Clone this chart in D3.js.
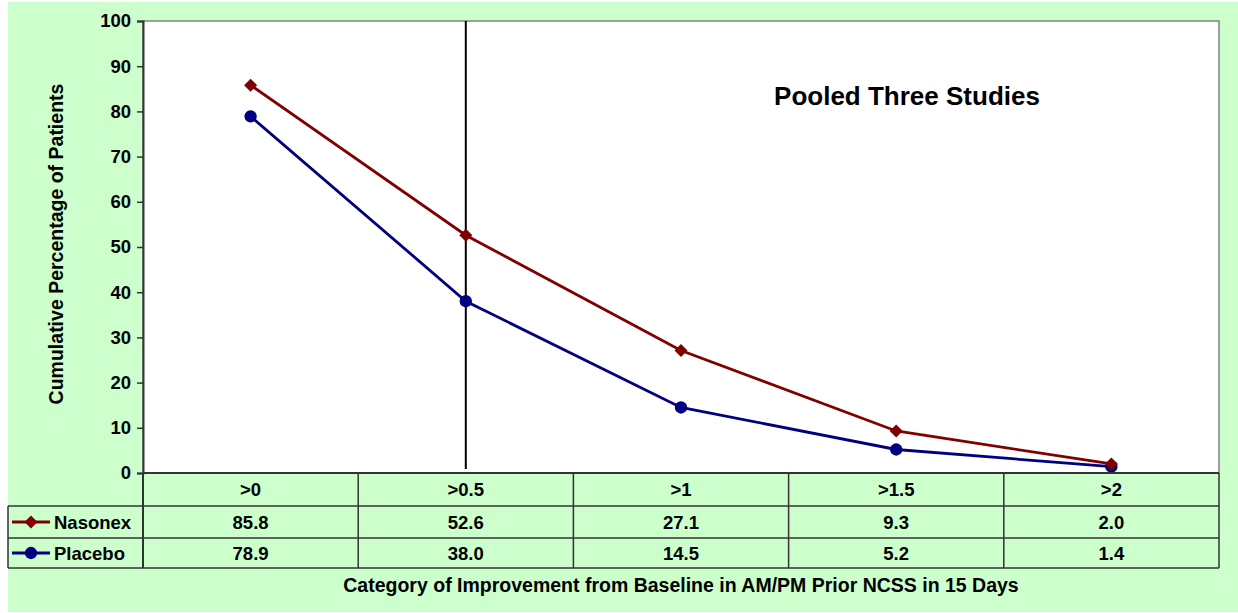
<!DOCTYPE html>
<html>
<head>
<meta charset="utf-8">
<script src="https://cdn.jsdelivr.net/npm/d3@7"></script>
<style>
  body { margin: 0; background: #fff; }
  text { font-family: Arial, "Liberation Sans", sans-serif; font-weight: bold; }
</style>
</head>
<body>
<div id="chart"></div>
<script>
// chart data
var categories = [">0", ">0.5", ">1", ">1.5", ">2"];
var nasonex = [85.8, 52.6, 27.1, 9.3, 2.0];
var placebo = [78.9, 38.0, 14.5, 5.2, 1.4];
var yTicks = [0, 10, 20, 30, 40, 50, 60, 70, 80, 90, 100];
var markerCategory = ">0.5";

var width = 1238, height = 613;
var plot = {left: 143, top: 21, right: 1219, bottom: 473};

var svg = d3.select("#chart").append("svg")
    .attr("width", width)
    .attr("height", height);

// green chart background
svg.append("rect")
    .attr("x", 8).attr("y", 2)
    .attr("width", width - 8).attr("height", 610)
    .attr("fill", "#ccffcc");

// plot area
svg.append("rect")
    .attr("x", plot.left).attr("y", plot.top)
    .attr("width", plot.right - plot.left).attr("height", plot.bottom - plot.top)
    .attr("fill", "#fff")
    .attr("stroke", "#808080")
    .attr("stroke-width", 1.5);

var x = d3.scaleBand()
    .domain(categories)
    .range([plot.left, plot.right]);

var y = d3.scaleLinear()
    .domain([0, 100])
    .range([plot.bottom, plot.top]);

// y axis
var yAxis = svg.append("g")
    .attr("transform", "translate(" + plot.left + ",0)")
    .call(d3.axisLeft(y).tickValues(yTicks).tickSize(6).tickPadding(6));
yAxis.select(".domain").attr("stroke", "#333").attr("stroke-width", 2);
yAxis.selectAll(".tick line").attr("stroke", "#333").attr("stroke-width", 1.5);
yAxis.selectAll(".tick text")
    .attr("fill", "#000")
    .style("font-size", "18.5px")
    .style("font-family", "Arial, 'Liberation Sans', sans-serif")
    .style("font-weight", "bold");

svg.append("text")
    .attr("transform", "translate(63," + ((plot.top + plot.bottom) / 2 - 3) + ") rotate(-90)")
    .attr("text-anchor", "middle")
    .style("font-size", "19.5px")
    .text("Cumulative Percentage of Patients");

// vertical reference line
var cx = function(c) { return x(c) + x.bandwidth() / 2; };
svg.append("line")
    .attr("x1", cx(markerCategory)).attr("x2", cx(markerCategory))
    .attr("y1", plot.top).attr("y2", plot.bottom - 4)
    .attr("stroke", "#000")
    .attr("stroke-width", 2);

// series
var series = [
  {name: "Nasonex", values: nasonex, color: "#800000", shape: d3.symbolSquare, size: 85, rot: 45},
  {name: "Placebo", values: placebo, color: "#000080", shape: d3.symbolCircle, size: 120, rot: 0}
];

var line = d3.line()
    .x(function(d, i) { return cx(categories[i]); })
    .y(function(d) { return y(d); });

series.slice().reverse().forEach(function(s) {
  svg.append("path")
      .datum(s.values)
      .attr("d", line)
      .attr("fill", "none")
      .attr("stroke", s.color)
      .attr("stroke-width", 2.8);
});
series.slice().reverse().forEach(function(s) {
  svg.selectAll(null)
      .data(s.values)
      .enter().append("path")
      .attr("transform", function(d, i) { return "translate(" + cx(categories[i]) + "," + y(d) + ") rotate(" + s.rot + ")"; })
      .attr("d", d3.symbol().type(s.shape).size(s.size))
      .attr("fill", s.color);
});

svg.append("text")
    .attr("x", 907).attr("y", 105)
    .attr("text-anchor", "middle")
    .style("font-size", "26px")
    .text("Pooled Three Studies");

// data table
var rows = [plot.bottom, 506, 538, 568];
var tableLeft = 8;
var grid = svg.append("g").attr("stroke", "#333").attr("stroke-width", 1.5);

// horizontal lines
grid.append("line").attr("x1", tableLeft).attr("x2", plot.right).attr("y1", rows[1]).attr("y2", rows[1]);
grid.append("line").attr("x1", tableLeft).attr("x2", plot.right).attr("y1", rows[2]).attr("y2", rows[2]);
grid.append("line").attr("x1", tableLeft).attr("x2", plot.right).attr("y1", rows[3]).attr("y2", rows[3]);
grid.append("line").attr("x1", plot.left).attr("x2", plot.right).attr("y1", rows[0]).attr("y2", rows[0]).attr("stroke-width", 2);
// vertical lines
grid.append("line").attr("x1", tableLeft).attr("x2", tableLeft).attr("y1", rows[1]).attr("y2", rows[3]);
grid.append("line").attr("x1", plot.left).attr("x2", plot.left).attr("y1", rows[0]).attr("y2", rows[3]).attr("stroke-width", 2);
categories.forEach(function(c) {
  var xr = x(c) + x.bandwidth();
  grid.append("line").attr("x1", xr).attr("x2", xr).attr("y1", rows[0]).attr("y2", rows[3]);
});

// header
svg.selectAll(".hdr")
    .data(categories)
    .enter().append("text")
    .attr("x", function(c) { return cx(c); })
    .attr("y", (rows[0] + rows[1]) / 2 + 6.5)
    .attr("text-anchor", "middle")
    .style("font-size", "18.5px")
    .text(function(c) { return c; });

series.forEach(function(s, r) {
  var ym = (rows[r + 1] + rows[r + 2]) / 2;
  svg.selectAll(null)
      .data(s.values)
      .enter().append("text")
      .attr("x", function(d, i) { return cx(categories[i]); })
      .attr("y", ym + 7)
      .attr("text-anchor", "middle")
      .style("font-size", "18.5px")
      .text(function(d) { return d.toFixed(1); });
  // legend key
  svg.append("line")
      .attr("x1", 12).attr("x2", 50).attr("y1", ym).attr("y2", ym)
      .attr("stroke", s.color).attr("stroke-width", 2.8);
  svg.append("path")
      .attr("transform", "translate(31," + ym + ") rotate(" + s.rot + ")")
      .attr("d", d3.symbol().type(s.shape).size(s.size))
      .attr("fill", s.color);
  svg.append("text")
      .attr("x", 54).attr("y", ym + 7)
      .style("font-size", "18.5px")
      .text(s.name);
});

svg.append("text")
    .attr("x", (plot.left + plot.right) / 2).attr("y", 592)
    .attr("text-anchor", "middle")
    .style("font-size", "19.5px")
    .text("Category of Improvement from Baseline in AM/PM Prior NCSS in 15 Days");
</script>
</body>
</html>
